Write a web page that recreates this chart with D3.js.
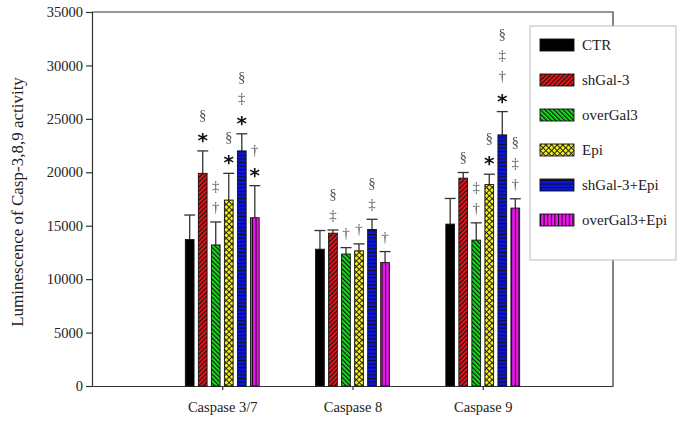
<!DOCTYPE html>
<html><head><meta charset="utf-8">
<script src="https://cdn.jsdelivr.net/npm/d3@7"></script>
<style>body{margin:0;background:#fff}svg{display:block}.marks{opacity:0.995;will-change:transform}</style>
</head><body>
<script>
const categories = ["Caspase 3/7", "Caspase 8", "Caspase 9"];
const seriesNames = ["CTR", "shGal-3", "overGal3", "Epi", "shGal-3+Epi", "overGal3+Epi"];
const ctr = [13700, 12800, 15150];
const shGal3 = [19900, 14300, 19450];
const overGal3 = [13200, 12350, 13650];
const epi = [17400, 12650, 18850];
const shGal3Epi = [22000, 14650, 23500];
const overGal3Epi = [15750, 11550, 16650];
const ctrErr = [2300, 1750, 2400];
const shGal3Err = [2100, 300, 530];
const overGal3Err = [2150, 600, 1620];
const epiErr = [2500, 650, 970];
const shGal3EpiErr = [1600, 950, 2180];
const overGal3EpiErr = [3000, 1030, 870];
// significance marks, listed bottom to top
const ctrMarks = ["", "", ""];
const shGal3Marks = ["*§", "‡§", "§"];
const overGal3Marks = ["†‡", "†", "†‡"];
const epiMarks = ["*§", "†", "*§"];
const shGal3EpiMarks = ["*‡§", "‡§", "*†‡§"];
const overGal3EpiMarks = ["*†", "†", "†‡§"];
const yTicks = [0, 5000, 10000, 15000, 20000, 25000, 30000, 35000];

const values = [ctr, shGal3, overGal3, epi, shGal3Epi, overGal3Epi];
const errs = [ctrErr, shGal3Err, overGal3Err, epiErr, shGal3EpiErr, overGal3EpiErr];
const marks = [ctrMarks, shGal3Marks, overGal3Marks, epiMarks, shGal3EpiMarks, overGal3EpiMarks];
const fills = ["#000", "url(#pRed)", "url(#pGreen)", "url(#pYellow)", "url(#pBlue)", "url(#pMag)"];

const W = 683, H = 423;
const svg = d3.select("body").append("svg").attr("width", W).attr("height", H);
const defs = svg.append("defs");
function stripes(id, color, angle, size, lw) {
  const p = defs.append("pattern").attr("id", id).attr("patternUnits", "userSpaceOnUse")
    .attr("width", size).attr("height", size).attr("patternTransform", `rotate(${angle})`);
  p.append("rect").attr("width", size).attr("height", size).attr("fill", color);
  p.append("rect").attr("x", 0).attr("y", 0).attr("width", lw).attr("height", size).attr("fill", "#111");
}
stripes("pRed", "#e8141a", 45, 3.2, 1.1);
stripes("pGreen", "#19d81c", -45, 3.2, 1.1);
stripes("pBlue", "#0a14e6", 90, 3.6, 1.0);
stripes("pMag", "#f014f0", 0, 3.6, 1.0);
{
  const p = defs.append("pattern").attr("id", "pYellow").attr("patternUnits", "userSpaceOnUse")
    .attr("width", 4).attr("height", 4).attr("patternTransform", "rotate(45)");
  p.append("rect").attr("width", 4).attr("height", 4).attr("fill", "#f4f014");
  p.append("rect").attr("width", 1).attr("height", 4).attr("fill", "#222");
  p.append("rect").attr("width", 4).attr("height", 1).attr("fill", "#222");
}

const L = 92, R = 613, T = 12, B = 386;
const x = d3.scaleLinear().domain([0, 4]).range([L, R]);
const y = d3.scaleLinear().domain([0, 35000]).range([B, T]);
const serif = "'Liberation Serif', 'Times New Roman', serif";
const axisColor = "#333";

// frame top/right
svg.append("path").attr("d", `M${L},${T}H${R}V${B}`).attr("fill", "none").attr("stroke", axisColor).attr("stroke-width", 1.2);

const yAxis = svg.append("g").attr("transform", `translate(${L},0)`)
  .call(d3.axisLeft(y).tickValues(yTicks).tickFormat(d3.format("d")).tickSize(6).tickPadding(3));
yAxis.attr("font-family", serif).attr("font-size", 14.5);
yAxis.selectAll("path,line").attr("stroke", axisColor).attr("stroke-width", 1.2);
yAxis.selectAll("text").attr("font-family", serif).attr("font-size", 14.5).attr("fill", "#222");

const xAxis = svg.append("g").attr("transform", `translate(0,${B})`)
  .call(d3.axisBottom(x).tickValues([1, 2, 3]).tickFormat((d) => categories[d - 1]).tickSize(4).tickPadding(12).tickSizeOuter(0));
xAxis.attr("font-family", serif).attr("font-size", 14.5);
xAxis.selectAll("path,line").attr("stroke", axisColor).attr("stroke-width", 1.2);
xAxis.selectAll("text").attr("font-family", serif).attr("font-size", 14.5).attr("fill", "#222");

svg.append("text").attr("transform", `translate(23,${(T + B) / 2 + 3}) rotate(-90)`)
  .attr("text-anchor", "middle").attr("font-family", serif).attr("font-size", 17).attr("fill", "#222")
  .text("Luminescence of Casp-3,8,9 activity");

const pitch = 0.1, bw = 0.067;
const barsG = svg.append("g");
const marksG = svg.append("g").attr("class", "marks");
const capHalf = 5.5;
values.forEach((vals, j) => {
  vals.forEach((v, i) => {
    const cx = x(i + 1 + (j - 2.5) * pitch);
    const w = x(bw) - x(0);
    const top = errs[j][i] + v;
    barsG.append("line").attr("x1", cx).attr("x2", cx).attr("y1", y(v)).attr("y2", y(top))
      .attr("stroke", "#333").attr("stroke-width", 1.3);
    barsG.append("line").attr("x1", cx - capHalf).attr("x2", cx + capHalf).attr("y1", y(top)).attr("y2", y(top))
      .attr("stroke", "#333").attr("stroke-width", 1.3);
    barsG.append("rect").attr("x", cx - w / 2).attr("y", y(v)).attr("width", w).attr("height", y(0) - y(v))
      .attr("fill", fills[j]).attr("stroke", "#111").attr("stroke-width", 0.9);
    const syms = Array.from(marks[j][i]);
    syms.forEach((s, k) => {
      const c = y(top) - 15 - k * 21;
      if (s === "*") {
        marksG.append("text").attr("x", cx).attr("y", c + 11).attr("text-anchor", "middle")
          .attr("font-family", "'DejaVu Sans', sans-serif").attr("font-weight", "bold").attr("font-size", 20).attr("fill", "#111").text("*");
      } else {
        marksG.append("text").attr("x", cx).attr("y", c + 5).attr("text-anchor", "middle")
          .attr("font-family", serif).attr("font-size", 15).attr("fill", "#555").text(s);
      }
    });
  });
});

// legend
const lg = svg.append("g");
lg.append("rect").attr("x", 530).attr("y", 26).attr("width", 146).attr("height", 234)
  .attr("fill", "#fff").attr("stroke", "#bbb").attr("stroke-width", 1);
seriesNames.forEach((n, j) => {
  const cy = 45 + j * 35;
  lg.append("rect").attr("x", 540).attr("y", cy - 6).attr("width", 34).attr("height", 12)
    .attr("fill", fills[j]).attr("stroke", "#111").attr("stroke-width", 0.9);
  lg.append("text").attr("x", 582).attr("y", cy + 5).attr("font-family", serif).attr("font-size", 15)
    .attr("fill", "#222").text(n);
});
</script>
</body></html>
